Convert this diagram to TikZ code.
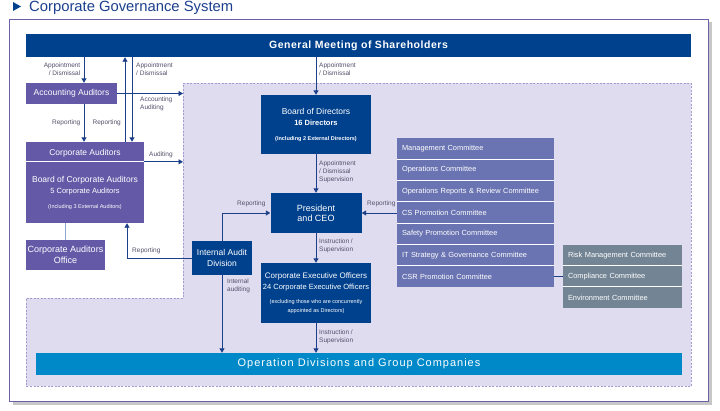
\documentclass[tikz,border=0pt]{standalone}
\usepackage{fontspec}
\setmainfont{Liberation Sans}
\usetikzlibrary{arrows.meta}
\definecolor{navy}{HTML}{00418D}
\definecolor{navyline}{HTML}{1B3F88}
\definecolor{titleblue}{HTML}{1B3F8E}
\definecolor{audpurple}{HTML}{6459A7}
\definecolor{compurple}{HTML}{6A74B2}
\definecolor{comgray}{HTML}{738595}
\definecolor{opblue}{HTML}{0089C8}
\definecolor{region}{HTML}{DFDCEF}
\definecolor{regionline}{HTML}{A39BD0}
\definecolor{frame}{HTML}{6A62A8}
\definecolor{lblgray}{HTML}{55506C}
\definecolor{officeline}{HTML}{8DA6C9}
\begin{document}
\begin{tikzpicture}[x=1pt,y=-1pt,
    box/.style={fill=navy,text=white,inner sep=0pt,align=center,font=\fontsize{8.5}{11}\selectfont},
    pbox/.style={box,fill=audpurple},
    com/.style={fill=compurple,text=white,inner xsep=5pt,inner ysep=0pt,text width=147pt,minimum height=21.3pt,align=left,font=\fontsize{7.4}{9}\selectfont},
    gcom/.style={com,fill=comgray,text width=109pt,minimum height=21pt},
    lbl/.style={text=lblgray,inner sep=0pt,font=\fontsize{6.5}{8}\selectfont},
    arr/.style={-{Triangle[width=5pt,length=4.5pt]},navyline,line width=0.9pt},
    ln/.style={navyline,line width=0.9pt}]
    \useasboundingbox (0,0) rectangle (720,410);
    %frame and audit region
    \fill[black!22] (12.5,22) rectangle (712,405);
    \filldraw[fill=white,draw=frame,line width=0.8pt] (9.5,19) rectangle (708,401);
    \filldraw[fill=region,draw=regionline,line width=0.6pt,dash pattern=on 2pt off 1.5pt]
        (183,83) -- (691,83) -- (691,386) -- (26,386) -- (26,298) -- (183,298) -- cycle;
    %title
    \fill[navy] (13,2) -- (21,6.5) -- (13,11) -- cycle;
    \node[anchor=base west,text=titleblue,inner sep=0pt,font=\fontsize{14.8}{15}\selectfont] (title) at (29,11.5) {Corporate Governance System};
    %boxes
    \node[box,minimum width=665pt,minimum height=23pt,font=\bfseries\fontsize{10.5}{12}\selectfont\addfontfeature{LetterSpace=5}] (gm) at (358.5,45.5) {General Meeting of Shareholders};
    \node[pbox,minimum width=91pt,minimum height=21pt] (acc) at (71.5,93.5) {Accounting Auditors};
    \node[pbox,minimum width=118pt,minimum height=81pt] (aud) at (85,182.5) {};
    \coordinate (audsplit) at ([yshift=-20pt]aud.north east);
    \draw[white,line width=0.8pt] (audsplit -| aud.west) -- (audsplit);
    \node[box,fill=none] (audtitle) at (85,153) {Corporate Auditors};
    \node[box,fill=none] (audtext) at (85,193) {Board of Corporate Auditors\\{\fontsize{7.5}{9}\selectfont 5 Corporate Auditors}\\[4pt]{\fontsize{5.5}{7}\selectfont (Including 3 External Auditors)}};
    \node[pbox,minimum width=79pt,minimum height=30pt,font=\fontsize{9}{11}\selectfont] (office) at (65.5,255) {Corporate Auditors\\Office};
    \node[box,minimum width=110pt,minimum height=59pt] (board) at (316,124.5) {Board of Directors\\{\fontsize{7.5}{9}\selectfont\bfseries 16 Directors}\\[4pt]{\fontsize{5.5}{7}\selectfont\bfseries (Including 2 External Directors)}};
    \node[box,minimum width=91pt,minimum height=40pt,font=\fontsize{9}{10}\selectfont] (pres) at (316,213) {President\\and CEO};
    \node[box,minimum width=60pt,minimum height=34pt] (ia) at (222,258) {Internal Audit\\Division};
    \node[box,minimum width=110pt,minimum height=60pt,font=\fontsize{8}{11}\selectfont] (ceo) at (316,293) {Corporate Executive Officers\\{\fontsize{7.5}{9}\selectfont 24 Corporate Executive Officers}\\[3pt]{\fontsize{5.5}{7}\selectfont (excluding those who are concurrently}\\[-2pt]{\fontsize{5.5}{7}\selectfont appointed as Directors)}};
    \node[box,fill=opblue,minimum width=646pt,minimum height=22pt,font=\fontsize{11}{12}\selectfont\addfontfeature{LetterSpace=9}] (ops) at (359,364) {Operation Divisions and Group Companies};
    %committees
    \foreach \n [count=\i] in {Management Committee,Operations Committee,Operations Reports \& Review Committee,CS Promotion Committee,Safety Promotion Committee,IT Strategy \& Governance Committee,CSR Promotion Committee}
        \node[com] (com\i) at (475.5,{127.35+21.3*\i}) {\n};
    \foreach \i in {2,...,7}
        \draw[white,line width=0.8pt] (com\i.north west) -- (com\i.north east);
    \foreach \n [count=\i] in {Risk Management Committee,Compliance Committee,Environment Committee}
        \node[gcom] (gcom\i) at (622.5,{234.5+21*\i}) {\n};
    \foreach \i in {2,3}
        \draw[white,line width=0.8pt] (gcom\i.north west) -- (gcom\i.north east);
    %draw lines
    \coordinate (cA) at (84,0);
    \coordinate (cB) at (125,0);
    \coordinate (cC) at (132,0);
    \coordinate (cF) at (127,0);
    \coordinate (edge) at (183,0);
    \draw[arr] (gm.south -| cA) -- (acc.north -| cA);
    \draw[arr] (acc.south -| cA) -- (aud.north -| cA);
    \draw[arr] (aud.north -| cB) -- (gm.south -| cB);
    \draw[arr] (gm.south -| cC) -- (aud.north -| cC);
    \draw[arr] (acc.east) -- (acc.east -| edge);
    \draw[arr] (audsplit) -- (audsplit -| edge);
    \draw[officeline,line width=1.5pt] (office.north) -- (aud.south -| office);
    \draw[arr] (gm.south -| board) -- (board.north);
    \draw[arr] (board.south) -- (pres.north);
    \draw[arr] (pres.south) -- (ceo.north);
    \draw[arr] (ceo.south) -- (ops.north -| ceo);
    \draw[arr] (pres.east -| com4.west) -- (pres.east);
    \draw[arr] (ia.north) |- (pres.west);
    \draw[arr] (ia.west) -| (aud.south -| cF);
    \draw[arr] (ia.south) -- (ops.north -| ia);
    \draw[ln] (com7.east) -- (gcom2.west);
    %labels
    \node[lbl,anchor=east,align=right] (lappa) at (80.5,69) {Appointment\\/ Dismissal};
    \node[lbl,anchor=west,align=left] (lappb) at (136,69) {Appointment\\/ Dismissal};
    \node[lbl,anchor=west,align=left] (lappc) at (319,69) {Appointment\\/ Dismissal};
    \node[lbl,anchor=east] (lrepa) at (80.5,123) {Reporting};
    \node[lbl,anchor=east] (lrepb) at (121,123) {Reporting};
    \node[lbl,anchor=west,align=left] (laccaud) at (140,104) {Accounting\\Auditing};
    \node[lbl,anchor=west] (laudit) at (149,155) {Auditing};
    \node[lbl,anchor=west,align=left] (lappsup) at (319,172) {Appointment\\/ Dismissal\\Supervision};
    \node[lbl,anchor=west] (lrepc) at (237,204) {Reporting};
    \node[lbl,anchor=west] (lrepd) at (367,204) {Reporting};
    \node[lbl,anchor=west] (lrepe) at (132,251) {Reporting};
    \node[lbl,anchor=west,align=left] (linsta) at (319,245.5) {Instruction /\\Supervision};
    \node[lbl,anchor=west,align=left] (lintaud) at (227,285.5) {Internal\\auditing};
    \node[lbl,anchor=west,align=left] (linstb) at (319,337) {Instruction /\\Supervision};
\end{tikzpicture}
\end{document}
